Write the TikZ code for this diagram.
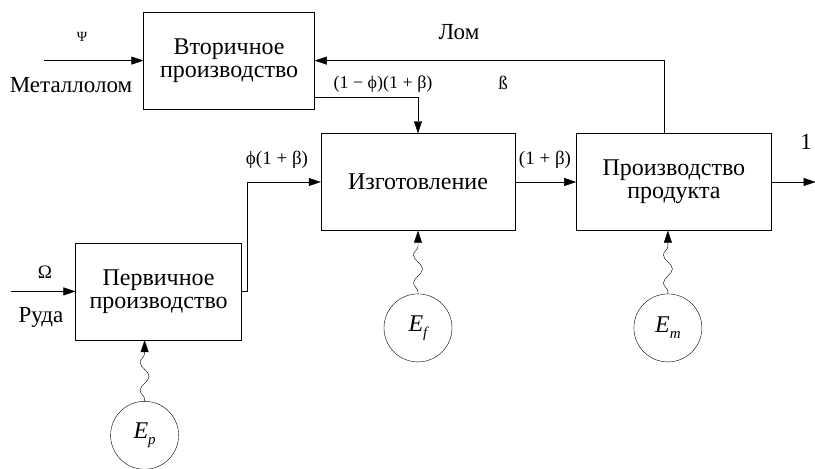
\documentclass[tikz,border=0pt]{standalone}
\usepackage{fontspec}
\setmainfont{Liberation Serif}
\newfontfamily\diagfont{Liberation Serif}
\usepackage{tikz}
\usetikzlibrary{arrows.meta, positioning, decorations.pathmorphing}

\newcommand{\energysub}[1]{\itshape E\raisebox{-6pt}{\fontsize{15}{15}\selectfont #1}}

\begin{document}
\begin{tikzpicture}[x=1pt, y=-1pt, node distance=60pt]
\tikzstyle{block} = [rectangle, draw=black, minimum height=97pt, inner sep=0pt, align=center, font=\diagfont\fontsize{24}{23}\selectfont]
\tikzstyle{source} = [circle, draw=black, minimum size=68pt, inner sep=0pt, font=\diagfont\fontsize{24}{24}\selectfont]
\tikzstyle{lbl} = [inner sep=0pt, font=\diagfont\fontsize{19}{19}\selectfont]
\tikzstyle{word} = [inner sep=0pt, font=\diagfont\fontsize{23}{23}\selectfont]
\tikzstyle{arrow} = [-{Triangle[length=12pt, width=8pt]}]
\tikzstyle{energy} = [arrow, decorate, decoration={snake, amplitude=4.5pt, segment length=28pt, pre length=2pt, post length=13pt}]

\useasboundingbox (0,0) rectangle (815,469);

% Process blocks
\node (fab) [block, minimum width=194pt] at (418,182) {Изготовление};
\node (prod) [block, minimum width=195pt, right=61pt of fab] {Производство\\продукта};
\node (sec) [block, minimum width=171pt, above left=24pt and 6pt of fab] {Вторичное\\производство};
\node (prim) [block, minimum width=166pt, below left=12pt and 79pt of fab] {Первичное\\производство};

% Energy sources
\node (Ef) [source, below=63pt of fab] {\energysub{f}};
\node (Em) [source, below=63pt of prod, xshift=-6pt] {\energysub{m}};
\node (Ep) [source, below=61pt of prim, xshift=-14pt] {\energysub{p}};

% Free ends
\coordinate [left=99pt of sec.west] (scrap);
\coordinate [left=64pt of prim.west] (ore);
\coordinate [right=44pt of prod.east] (out);

% Connections
\draw [arrow] (scrap) -- (sec.west);
\draw [arrow] (ore) -- (prim.west);
\draw [arrow] ([xshift=-10pt]prod.north) |- (sec.east);
\draw [arrow] ([yshift=12pt]sec.south east) -| (fab.north);
\draw [arrow] (prim.east) -- ++(5,0) |- (fab.west);
\draw [arrow] (fab.east) -- (prod.west);
\draw [arrow] (prod.east) -- (out);
\draw [energy] (Ep.north) -- (Ep.north |- prim.south);
\draw [energy] (Ef.north) -- (Ef.north |- fab.south);
\draw [energy] (Em.north) -- (Em.north |- prod.south);

% Labels
\node (psi) [lbl, font=\diagfont\fontsize{14}{14}\selectfont] at (82,37) {Ψ};
\node (metal) [word] at (71,85) {Металлолом};
\node (omega) [lbl] at (45,272) {Ω};
\node (ruda) [word] at (41,317) {Руда};
\node (lom) [word] at (459,32) {Лом};
\node (beta) [lbl] at (503,83) {ß};
\node (secout) [lbl, font=\diagfont\fontsize{18}{18}\selectfont] at (383,84) {(1 − ϕ)(1 + β)};
\node (primout) [lbl] at (277,160) {ϕ(1 + β)};
\node (fabout) [lbl] at (545,160) {(1 + β)};
\node (one) [word] at (806,142) {1};

\end{tikzpicture}
\end{document}
